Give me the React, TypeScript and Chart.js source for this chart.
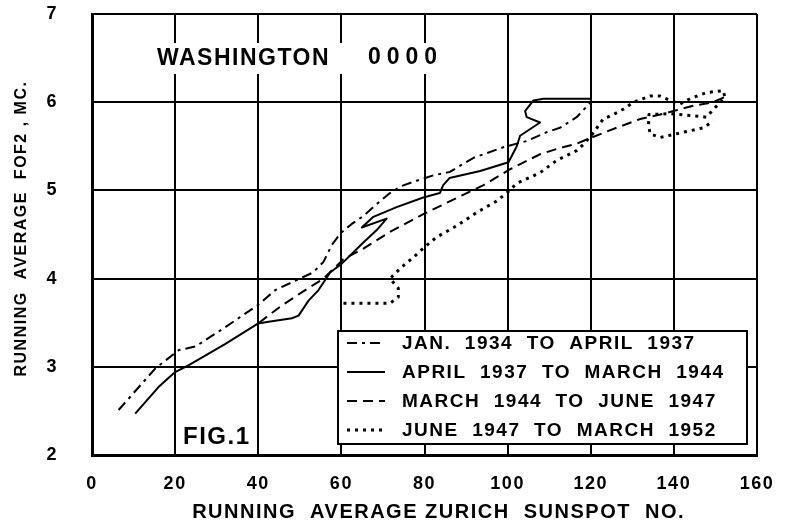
import React, { useEffect, useRef } from "react";
import { Chart, registerables } from "chart.js";

Chart.register(...registerables);

const FONT = '"Liberation Sans", Arial, Helvetica, sans-serif';

// Axis ranges / ticks
const xMin = 0;
const xMax = 160;
const xStep = 20;
const yMin = 2;
const yMax = 7;
const yStep = 1;

const xTitle = "    RUNNING  AVERAGE ZURICH  SUNSPOT  NO.";
const yTitle = "  RUNNING  AVERAGE  FOF2 , MC.";
const stationLabel = "WASHINGTON";
const hourLabel = "0000";
const figLabel = "FIG.1";

const seriesLabels = [
  "JAN. 1934 TO APRIL 1937",
  "APRIL 1937 TO MARCH 1944",
  "MARCH 1944 TO JUNE 1947",
  "JUNE 1947 TO MARCH 1952",
];

// Jan 1934 - Apr 1937 (dash-dot)
const dashDotX = [6.4, 15.2, 20.9, 24.9, 32.1, 39.9, 44.1, 53.2, 55.7, 57.7, 59.7, 62.5, 65.3, 68.1, 71.7, 74.5, 78.1, 82.1, 86.1, 91.8, 99.0, 104.6, 109.4, 112.6, 116.6, 120.0];
const dashDotY = [2.51, 2.98, 3.19, 3.23, 3.45, 3.70, 3.87, 4.07, 4.19, 4.38, 4.51, 4.62, 4.71, 4.83, 4.97, 5.05, 5.11, 5.17, 5.21, 5.37, 5.49, 5.56, 5.66, 5.71, 5.83, 6.00];

// Apr 1937 - Mar 1944 (solid)
const solidX = [10.4, 16.0, 20.0, 23.3, 32.1, 39.9, 42.5, 48.1, 49.7, 52.1, 54.5, 57.3, 60.1, 65.3, 68.5, 70.9, 64.9, 67.7, 73.3, 79.7, 83.7, 84.5, 86.0, 93.4, 100.2, 102.2, 103.0, 107.8, 104.6, 104.2, 106.2, 108.6, 120.0];
const solidY = [2.47, 2.77, 2.94, 3.02, 3.26, 3.49, 3.51, 3.55, 3.58, 3.75, 3.87, 4.07, 4.17, 4.41, 4.55, 4.68, 4.58, 4.70, 4.81, 4.92, 4.97, 5.06, 5.14, 5.22, 5.32, 5.50, 5.62, 5.77, 5.83, 5.90, 6.02, 6.04, 6.04];

// Mar 1944 - Jun 1947 (dashed)
const dashedX = [40.2, 45.5, 51.3, 55.7, 60.5, 65.3, 71.7, 79.7, 89.3, 94.2, 100.6, 107.8, 111.8, 116.6, 120.2, 126.2, 131.9, 136.7, 139.9, 144.7, 149.5, 152.7];
const dashedY = [3.50, 3.69, 3.87, 4.00, 4.22, 4.34, 4.53, 4.73, 4.95, 5.06, 5.24, 5.41, 5.47, 5.53, 5.60, 5.71, 5.81, 5.86, 5.90, 5.96, 6.00, 6.07];

// Jun 1947 - Mar 1952 (dotted)
const dottedX = [60.5, 71.7, 73.7, 73.7, 71.7, 74.5, 77.3, 80.1, 82.9, 87.8, 92.6, 97.4, 100.0, 102.2, 107.8, 111.8, 116.6, 118.2, 120.6, 123.0, 125.4, 127.8, 130.3, 134.3, 136.7, 139.1, 141.5, 143.9, 147.9, 151.9, 152.3, 149.5, 147.9, 143.9, 139.1, 134.0, 133.9, 134.3, 136.7, 142.3, 147.1, 149.5];
const dottedY = [3.72, 3.72, 3.79, 3.89, 4.00, 4.13, 4.24, 4.36, 4.47, 4.60, 4.75, 4.88, 4.98, 5.08, 5.20, 5.34, 5.45, 5.52, 5.65, 5.81, 5.86, 5.92, 6.00, 6.07, 6.07, 6.02, 5.98, 6.04, 6.11, 6.13, 6.05, 5.92, 5.83, 5.85, 5.87, 5.86, 5.74, 5.64, 5.60, 5.66, 5.71, 5.79];

const seriesX = [dashDotX, solidX, dashedX, dottedX];
const seriesY = [dashDotY, solidY, dashedY, dottedY];
const seriesDash = [[10, 5, 3, 5], [], [10, 6], [3, 5]];
const seriesWidth = [2, 2, 2, 3];

function toPoints(xs: number[], ys: number[]) {
  return xs.map((x, i) => ({ x, y: ys[i] }));
}

const figurePlugin = {
  id: "figureAnnotations",
  beforeDraw(chart: any) {
    chart.ctx.letterSpacing = "1.5px";
  },
  beforeDatasetsDraw(chart: any) {
    const { ctx, chartArea } = chart;
    const L = chartArea.left;
    const T = chartArea.top;
    const B = chartArea.bottom;
    ctx.save();
    // station heading, on white ground
    ctx.fillStyle = "#fff";
    ctx.fillRect(L + 58, T + 29, 302, 31);
    ctx.fillStyle = "#000";
    ctx.textBaseline = "middle";
    ctx.textAlign = "left";
    ctx.font = `bold 23px ${FONT}`;
    ctx.letterSpacing = "1.5px";
    ctx.fillText(stationLabel, L + 65, T + 45);
    ctx.letterSpacing = "6px";
    ctx.fillText(hourLabel, L + 276, T + 44);

    // figure label
    ctx.letterSpacing = "1.5px";
    ctx.font = `bold 24px ${FONT}`;
    ctx.fillText(figLabel, L + 91, B - 18);

    // legend box
    const bx = L + 246;
    const by = B - 124;
    const bw = 409;
    const bh = 113;
    ctx.fillStyle = "#fff";
    ctx.fillRect(bx, by, bw, bh);
    ctx.strokeStyle = "#000";
    ctx.lineWidth = 2;
    ctx.setLineDash([]);
    ctx.strokeRect(bx, by, bw, bh);
    ctx.font = `bold 19px ${FONT}`;
    ctx.fillStyle = "#000";
    chart.data.datasets.forEach((ds: any, i: number) => {
      const ry = by + 12 + i * 29;
      ctx.beginPath();
      ctx.setLineDash(ds.borderDash || []);
      ctx.lineWidth = ds.borderWidth;
      ctx.moveTo(bx + 9, ry);
      ctx.lineTo(bx + 47, ry);
      ctx.stroke();
      ctx.fillText(String(ds.label).replace(/ /g, "  "), bx + 64, ry + 1);
    });
    ctx.restore();
    ctx.letterSpacing = "1.5px";
  },
};

export default function App() {
  const canvasRef = useRef<HTMLCanvasElement>(null);

  useEffect(() => {
    const canvas = canvasRef.current;
    if (!canvas) return;
    const datasets = seriesLabels.map((label, i) => ({
      label,
      data: toPoints(seriesX[i], seriesY[i]),
      borderColor: "#000",
      backgroundColor: "#000",
      borderWidth: seriesWidth[i],
      borderDash: seriesDash[i],
      borderJoinStyle: "round" as const,
      pointRadius: 0,
      fill: false,
      tension: 0,
    }));
    const tickFont = { family: FONT, size: 18, weight: "bold" as const };
    const chart = new Chart(canvas, {
      type: "line",
      data: { datasets },
      plugins: [figurePlugin],
      options: {
        animation: false,
        responsive: false,
        devicePixelRatio: 1,
        layout: { padding: { top: 14, right: 31, left: 0, bottom: 0 } },
        plugins: {
          legend: { display: false },
          tooltip: { enabled: false },
        },
        scales: {
          x: {
            type: "linear",
            min: xMin,
            max: xMax,
            afterFit: (scale: any) => {
              scale.height = 69;
              scale.paddingLeft = 8;
              scale.paddingRight = 8;
            },
            ticks: {
              stepSize: xStep,
              color: "#000",
              font: tickFont,
              padding: 18,
              maxRotation: 0,
              autoSkip: false,
            },
            grid: { color: "#000", lineWidth: 2, drawTicks: false },
            border: { display: true, color: "#000", width: 3 },
            title: {
              display: true,
              text: xTitle,
              color: "#000",
              font: { family: FONT, size: 20, weight: "bold" },
              padding: { top: 0, bottom: 0 },
            },
          },
          y: {
            type: "linear",
            min: yMin,
            max: yMax,
            afterFit: (scale: any) => {
              scale.width = 92;
              scale.paddingTop = 8;
              scale.paddingBottom = 8;
            },
            ticks: {
              stepSize: yStep,
              color: "#000",
              font: tickFont,
              padding: 34,
            },
            grid: { color: "#000", lineWidth: 2, drawTicks: false },
            border: { display: true, color: "#000", width: 3 },
            title: {
              display: true,
              text: yTitle,
              color: "#000",
              font: { family: FONT, size: 16, weight: "bold" },
              padding: { top: 12, bottom: 0 },
            },
          },
        },
      },
    } as any);
    return () => chart.destroy();
  }, []);

  return (
    <div style={{ position: "fixed", left: 0, top: 0, width: 788, height: 524, background: "#fff" }}>
      <canvas ref={canvasRef} width={788} height={524} style={{ display: "block", width: 788, height: 524 }} />
    </div>
  );
}
